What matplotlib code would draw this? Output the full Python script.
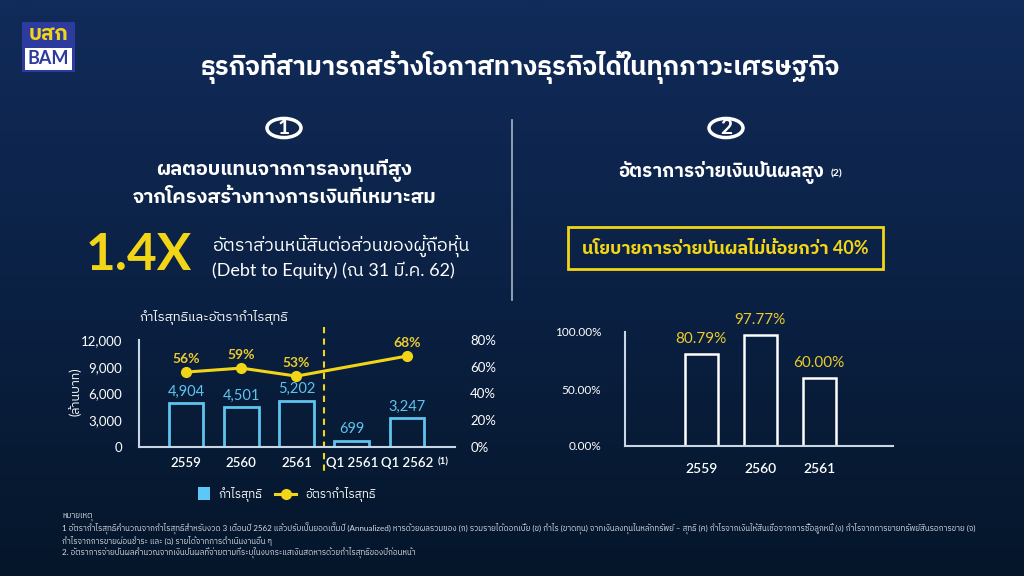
import numpy as np
import matplotlib
matplotlib.use("Agg")
import matplotlib.pyplot as plt
from matplotlib import font_manager
from matplotlib.ft2font import FT2Font
from matplotlib.patches import Rectangle, Circle
from matplotlib.lines import Line2D

# ---------------- data ----------------
profit_cats = ["2559", "2560", "2561", "Q1 2561", "Q1 2562"]
net_profit = [4904, 4501, 5202, 699, 3247]
margin_x = [0, 1, 2, 4]
margin_pct = [56, 59, 53, 68]
left_yticks = [0, 3000, 6000, 9000, 12000]
right_yticks = [0, 20, 40, 60, 80]

div_cats = ["2559", "2560", "2561"]
div_payout = [80.79, 97.77, 60.00]
div_yticks = [0, 50, 100]

# ---------------- fonts ----------------
def find_thai_families():
    fams = []
    for fe in font_manager.fontManager.ttflist:
        try:
            f = FT2Font(fe.fname)
            if f.get_char_index(0x0E01) != 0 and fe.name not in fams:
                fams.append(fe.name)
        except Exception:
            pass
    return fams

def has_bold(fam):
    for fe in font_manager.fontManager.ttflist:
        if fe.name == fam:
            w = fe.weight
            if isinstance(w, str):
                if "bold" in w.lower() or w.lower() in ("heavy", "black"):
                    return True
            elif w >= 600:
                return True
    return False

thai = find_thai_families()
pref = [f for f in thai if "Thai" in f and "Looped" not in f] + [f for f in thai if "Thai" not in f]
latin = "DejaVu Sans"
for cand in ["Lato", "Roboto", "Open Sans", "Inter", "Noto Sans"]:
    if has_bold(cand):
        latin = cand
        break
FAM = [latin] + pref[:2] + ["DejaVu Sans"]
plt.rcParams["font.family"] = FAM

W, H = 1024, 576
fig = plt.figure(figsize=(W / 100, H / 100), dpi=100)

def fx(x):
    return x / W

def fy(y):
    return 1 - y / H

# background gradient
bg = fig.add_axes([0, 0, 1, 1])
bg.set_axis_off()
t = np.linspace(0, 1, 256)[:, None]
top = np.array([17, 43, 90]) / 255
mid = np.array([11, 33, 68]) / 255
bot = np.array([5, 22, 42]) / 255
grad = np.where(t < 0.5, top + (mid - top) * (t / 0.5), mid + (bot - mid) * ((t - 0.5) / 0.5))
img = np.repeat(grad[:, None, :], 2, axis=1).reshape(256, 2, 3)
bg.imshow(img, aspect="auto", extent=[0, 1, 0, 1], origin="upper")
bg.set_xlim(0, 1)
bg.set_ylim(0, 1)

WHITE = "#ffffff"
YEL = "#f3d517"
YEL_TXT = "#eccb2e"
CYAN = "#5ec4ee"
AXC = "#c9d6e6"

# logo
bg.add_patch(Rectangle((fx(22), fy(72)), fx(53), 50 / H, facecolor="#2d3a9e", edgecolor="none"))
bg.add_patch(Rectangle((fx(25), fy(70)), fx(47), 22 / H, facecolor="white", edgecolor="none"))
fig.text(fx(48.5), fy(34), "บสก", color="#f3d517", fontsize=15, fontweight="bold", ha="center", va="center")
fig.text(fx(48.5), fy(59), "BAM", color="#2d3a9e", fontsize=13, fontweight="bold", ha="center", va="center")

# title
fig.text(fx(520), fy(67), "ธุรกิจที่สามารถสร้างโอกาสทางธุรกิจได้ในทุกภาวะเศรษฐกิจ", color=WHITE,
         fontsize=18.5, fontweight="bold", ha="center", va="center")

# circles with numbers
for cx, num in [(284, "1"), (726, "2")]:
    bg.add_patch(Circle((fx(cx), fy(128)), 17 / W, transform=bg.transAxes, facecolor="none",
                        edgecolor=WHITE, linewidth=2.5))
    fig.text(fx(cx), fy(128), num, color=WHITE, fontsize=15, fontweight="bold", ha="center", va="center")

# divider
bg.plot([fx(512), fx(512)], [fy(120), fy(300)], color="#aab4c4", lw=1.2)

# headings
fig.text(fx(284), fy(170), "ผลตอบแทนจากการลงทุนที่สูง", color=WHITE, fontsize=14.5, fontweight="bold",
         ha="center", va="center")
fig.text(fx(285), fy(197), "จากโครงสร้างทางการเงินที่เหมาะสม", color=WHITE, fontsize=14.2, fontweight="bold",
         ha="center", va="center")
fig.text(fx(721), fy(172), "อัตราการจ่ายเงินปันผลสูง", color=WHITE, fontsize=13.5, fontweight="bold",
         ha="center", va="center")
fig.text(fx(831), fy(174), "(2)", color=WHITE, fontsize=7.5, fontweight="bold", ha="left", va="center")

# 1.4X
fig.text(fx(86), fy(256), "1.4X", color=YEL, fontsize=37, fontweight="bold", ha="left", va="center")
fig.text(fx(212), fy(246), "อัตราส่วนหนี้สินต่อส่วนของผู้ถือหุ้น", color=WHITE, fontsize=13, ha="left", va="center")
fig.text(fx(212), fy(270), "(Debt to Equity) (ณ 31 มี.ค. 62)", color=WHITE, fontsize=13, ha="left", va="center")

# policy box
bg.add_patch(Rectangle((fx(568), fy(269)), fx(315), 42 / H, facecolor="none", edgecolor=YEL, linewidth=2))
fig.text(fx(725), fy(248), "นโยบายการจ่ายปันผลไม่น้อยกว่า 40%", color=YEL, fontsize=13, fontweight="bold",
         ha="center", va="center")

# ---------------- left chart ----------------
ax = fig.add_axes([fx(139), fy(447), fx(455 - 139), 107 / H])
ax.patch.set_alpha(0)
x = np.arange(len(profit_cats))
ax.bar(x, net_profit, width=0.63, facecolor="none", edgecolor=CYAN, linewidth=2)
for xi, v in zip(x, net_profit):
    ax.text(xi, v + 500, f"{v:,}", color=CYAN, fontsize=10.5, ha="center", va="bottom")
ax.set_xlim(-0.85, 4.87)
ax.set_ylim(0, 12000)
ax.set_yticks(left_yticks)
ax.set_yticklabels([f"{v:,}" for v in left_yticks], color=WHITE, fontsize=9.5)
ax.set_xticks(x)
ax.set_xticklabels(profit_cats, color=WHITE, fontsize=9.5, fontweight="semibold")
ax.tick_params(axis="both", length=0)
ax.tick_params(axis="y", pad=12)
ax.tick_params(axis="x", pad=7)
for s in ["top", "right"]:
    ax.spines[s].set_visible(False)
for s in ["left", "bottom"]:
    ax.spines[s].set_color(AXC)
    ax.spines[s].set_linewidth(1.5)
fig.text(fx(438), fy(462), "(1)", color=WHITE, fontsize=7, fontweight="bold", ha="left", va="center")

ax2 = ax.twinx()
ax2.patch.set_alpha(0)
ax2.set_ylim(0, 80)
ax2.set_yticks(right_yticks)
ax2.set_yticklabels([f"{v}%" for v in right_yticks], color=WHITE, fontsize=9.5)
ax2.tick_params(axis="y", length=0, pad=11)
for s in ax2.spines.values():
    s.set_visible(False)
ax2.plot(margin_x, margin_pct, color=YEL, lw=2.2, marker="o", markersize=7, zorder=5)
for xi, v in zip(margin_x, margin_pct):
    ax2.text(xi, v + 5.5, f"{v}%", color=YEL_TXT, fontsize=10, fontweight="bold", ha="center", va="bottom")
ax2.set_xlim(-0.85, 4.87)

# dashed separator
bg.plot([fx(324), fx(324)], [fy(327), fy(472)], color=YEL, lw=1.5, ls=(0, (3, 2.5)))

fig.text(fx(139), fy(317), "กำไรสุทธิและอัตรากำไรสุทธิ", color=WHITE, fontsize=9.5, ha="left", va="center")
fig.text(fx(75), fy(392), "(ล้านบาท)", color=WHITE, fontsize=9, rotation=90, ha="center", va="center")

# legend
bg.add_patch(Rectangle((fx(198), fy(500)), fx(12), 13 / H, facecolor="#5bc8f5", edgecolor="none"))
fig.text(fx(218), fy(494), "กำไรสุทธิ", color=WHITE, fontsize=8.5, ha="left", va="center")
bg.add_line(Line2D([fx(275), fx(296)], [fy(494), fy(494)], color=YEL, lw=2.2))
bg.add_line(Line2D([fx(285.5)], [fy(494)], color=YEL, marker="o", markersize=7, lw=0))
fig.text(fx(305), fy(494), "อัตรากำไรสุทธิ", color=WHITE, fontsize=8.5, ha="left", va="center")

# ---------------- right chart ----------------
bx = fig.add_axes([fx(625), fy(446), fx(893 - 625), 114 / H])
bx.patch.set_alpha(0)
xd = np.arange(len(div_cats))
bx.bar(xd, div_payout, width=0.56, facecolor="none", edgecolor=WHITE, linewidth=1.8)
for xi, v in zip(xd, div_payout):
    bx.text(xi, v + 7, f"{v:.2f}%", color=YEL_TXT, fontsize=11, ha="center", va="bottom")
bx.set_xlim(-1.29, 3.25)
bx.set_ylim(0, 100)
bx.set_yticks(div_yticks)
bx.set_yticklabels([f"{v:.2f}%" for v in div_yticks], color=WHITE, fontsize=8.5)
bx.set_xticks(xd)
bx.set_xticklabels(div_cats, color=WHITE, fontsize=10, fontweight="semibold")
bx.tick_params(axis="both", length=0)
bx.tick_params(axis="y", pad=17)
bx.tick_params(axis="x", pad=12)
for s in ["top", "right"]:
    bx.spines[s].set_visible(False)
for s in ["left", "bottom"]:
    bx.spines[s].set_color(AXC)
    bx.spines[s].set_linewidth(1.5)

# ---------------- footnotes ----------------
notes = [
    "หมายเหตุ",
    "1 อัตรากำไรสุทธิคำนวณจากกำไรสุทธิสำหรับงวด 3 เดือนปี 2562 แล้วปรับเป็นยอดเต็มปี (Annualized) หารด้วยผลรวมของ (ก) รวมรายได้ดอกเบี้ย (ข) กำไร (ขาดทุน) จากเงินลงทุนในหลักทรัพย์ – สุทธิ (ค) กำไรจากเงินให้สินเชื่อจากการซื้อลูกหนี้ (ง) กำไรจากการขายทรัพย์สินรอการขาย (จ)",
    "กำไรจากการขายผ่อนชำระ และ (ฉ) รายได้จากการดำเนินงานอื่น ๆ",
    "2. อัตราการจ่ายปันผลคำนวณจากเงินปันผลที่จ่ายตามที่ระบุในงบกระแสเงินสดหารด้วยกำไรสุทธิของปีก่อนหน้า",
]
for i, n in enumerate(notes):
    fig.text(fx(62), fy(517 + i * 11.8), n, color="#d8dde6", fontsize=5.8, ha="left", va="center")

fig.savefig("out.png", dpi=100)
